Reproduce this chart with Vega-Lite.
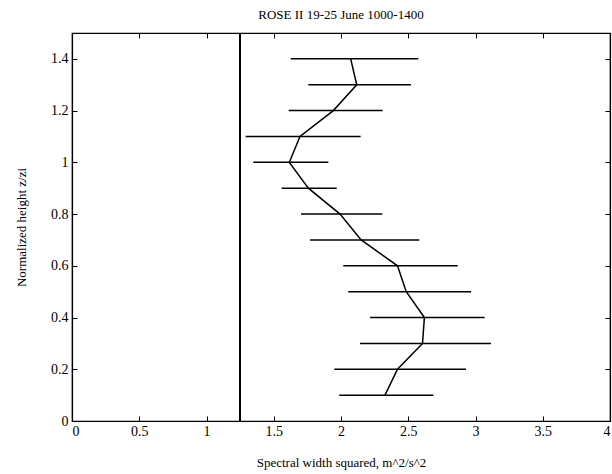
{
  "$schema": "https://vega.github.io/schema/vega-lite/v6.json",
  "width": 538,
  "height": 388,
  "autosize": {"type": "none"},
  "padding": {"left": 72, "top": 33, "right": 2, "bottom": 53},
  "background": "white",
  "title": {"text": "ROSE II 19-25 June  1000-1400", "font": "Liberation Serif", "fontSize": 13, "fontWeight": "normal", "color": "black", "offset": 10},
  "config": {
    "view": {"stroke": "black", "strokeWidth": 1.2},
    "axis": {"labelFont": "Liberation Serif", "titleFont": "Liberation Serif", "labelFontSize": 14, "titleFontSize": 13, "titleFontWeight": "normal", "labelColor": "black", "titleColor": "black", "domainColor": "black", "tickColor": "black", "grid": false, "tickSize": -5, "domainWidth": 1.2}
  },
  "data": {"values": [
    {"z": 0.1, "c": 2.327, "lo": 1.987, "hi": 2.687},
    {"z": 0.2, "c": 2.420, "lo": 1.950, "hi": 2.929},
    {"z": 0.3, "c": 2.606, "lo": 2.141, "hi": 3.115},
    {"z": 0.4, "c": 2.620, "lo": 2.216, "hi": 3.068},
    {"z": 0.5, "c": 2.485, "lo": 2.054, "hi": 2.967},
    {"z": 0.6, "c": 2.420, "lo": 2.017, "hi": 2.868},
    {"z": 0.7, "c": 2.150, "lo": 1.770, "hi": 2.582},
    {"z": 0.8, "c": 1.993, "lo": 1.703, "hi": 2.307},
    {"z": 0.9, "c": 1.757, "lo": 1.559, "hi": 1.968},
    {"z": 1.0, "c": 1.616, "lo": 1.348, "hi": 1.906},
    {"z": 1.1, "c": 1.695, "lo": 1.291, "hi": 2.146},
    {"z": 1.2, "c": 1.943, "lo": 1.611, "hi": 2.310},
    {"z": 1.3, "c": 2.117, "lo": 1.757, "hi": 2.520},
    {"z": 1.4, "c": 2.072, "lo": 1.626, "hi": 2.575}
  ]},
  "layer": [
    {
      "mark": {"type": "rule", "color": "black", "strokeWidth": 1.5},
      "encoding": {
        "x": {"field": "lo", "type": "quantitative", "scale": {"domain": [0, 4], "nice": false},
              "axis": {"values": [0, 0.5, 1, 1.5, 2, 2.5, 3, 3.5, 4], "format": "~g", "title": "Spectral width squared, m^2/s^2", "titlePadding": 18, "labelPadding": 8}},
        "x2": {"field": "hi"},
        "y": {"field": "z", "type": "quantitative", "scale": {"domain": [0, 1.5], "nice": false},
              "axis": {"values": [0, 0.2, 0.4, 0.6, 0.8, 1, 1.2, 1.4], "format": "~g", "title": "Normalized height z/zi", "titlePadding": 22, "labelPadding": 9}}
      }
    },
    {
      "mark": {"type": "line", "color": "black", "strokeWidth": 1.5},
      "encoding": {
        "x": {"field": "c", "type": "quantitative", "axis": {"orient": "top", "labels": false, "title": null, "values": [0, 0.5, 1, 1.5, 2, 2.5, 3, 3.5, 4]}},
        "y": {"field": "z", "type": "quantitative", "axis": {"orient": "right", "labels": false, "title": null, "values": [0, 0.2, 0.4, 0.6, 0.8, 1, 1.2, 1.4]}},
        "order": {"field": "z"}
      }
    },
    {
      "mark": {"type": "rule", "color": "black", "strokeWidth": 1.5},
      "encoding": {"x": {"datum": 1.25, "type": "quantitative", "axis": null}}
    }
  ],
  "resolve": {"axis": {"x": "independent", "y": "independent"}}
}
